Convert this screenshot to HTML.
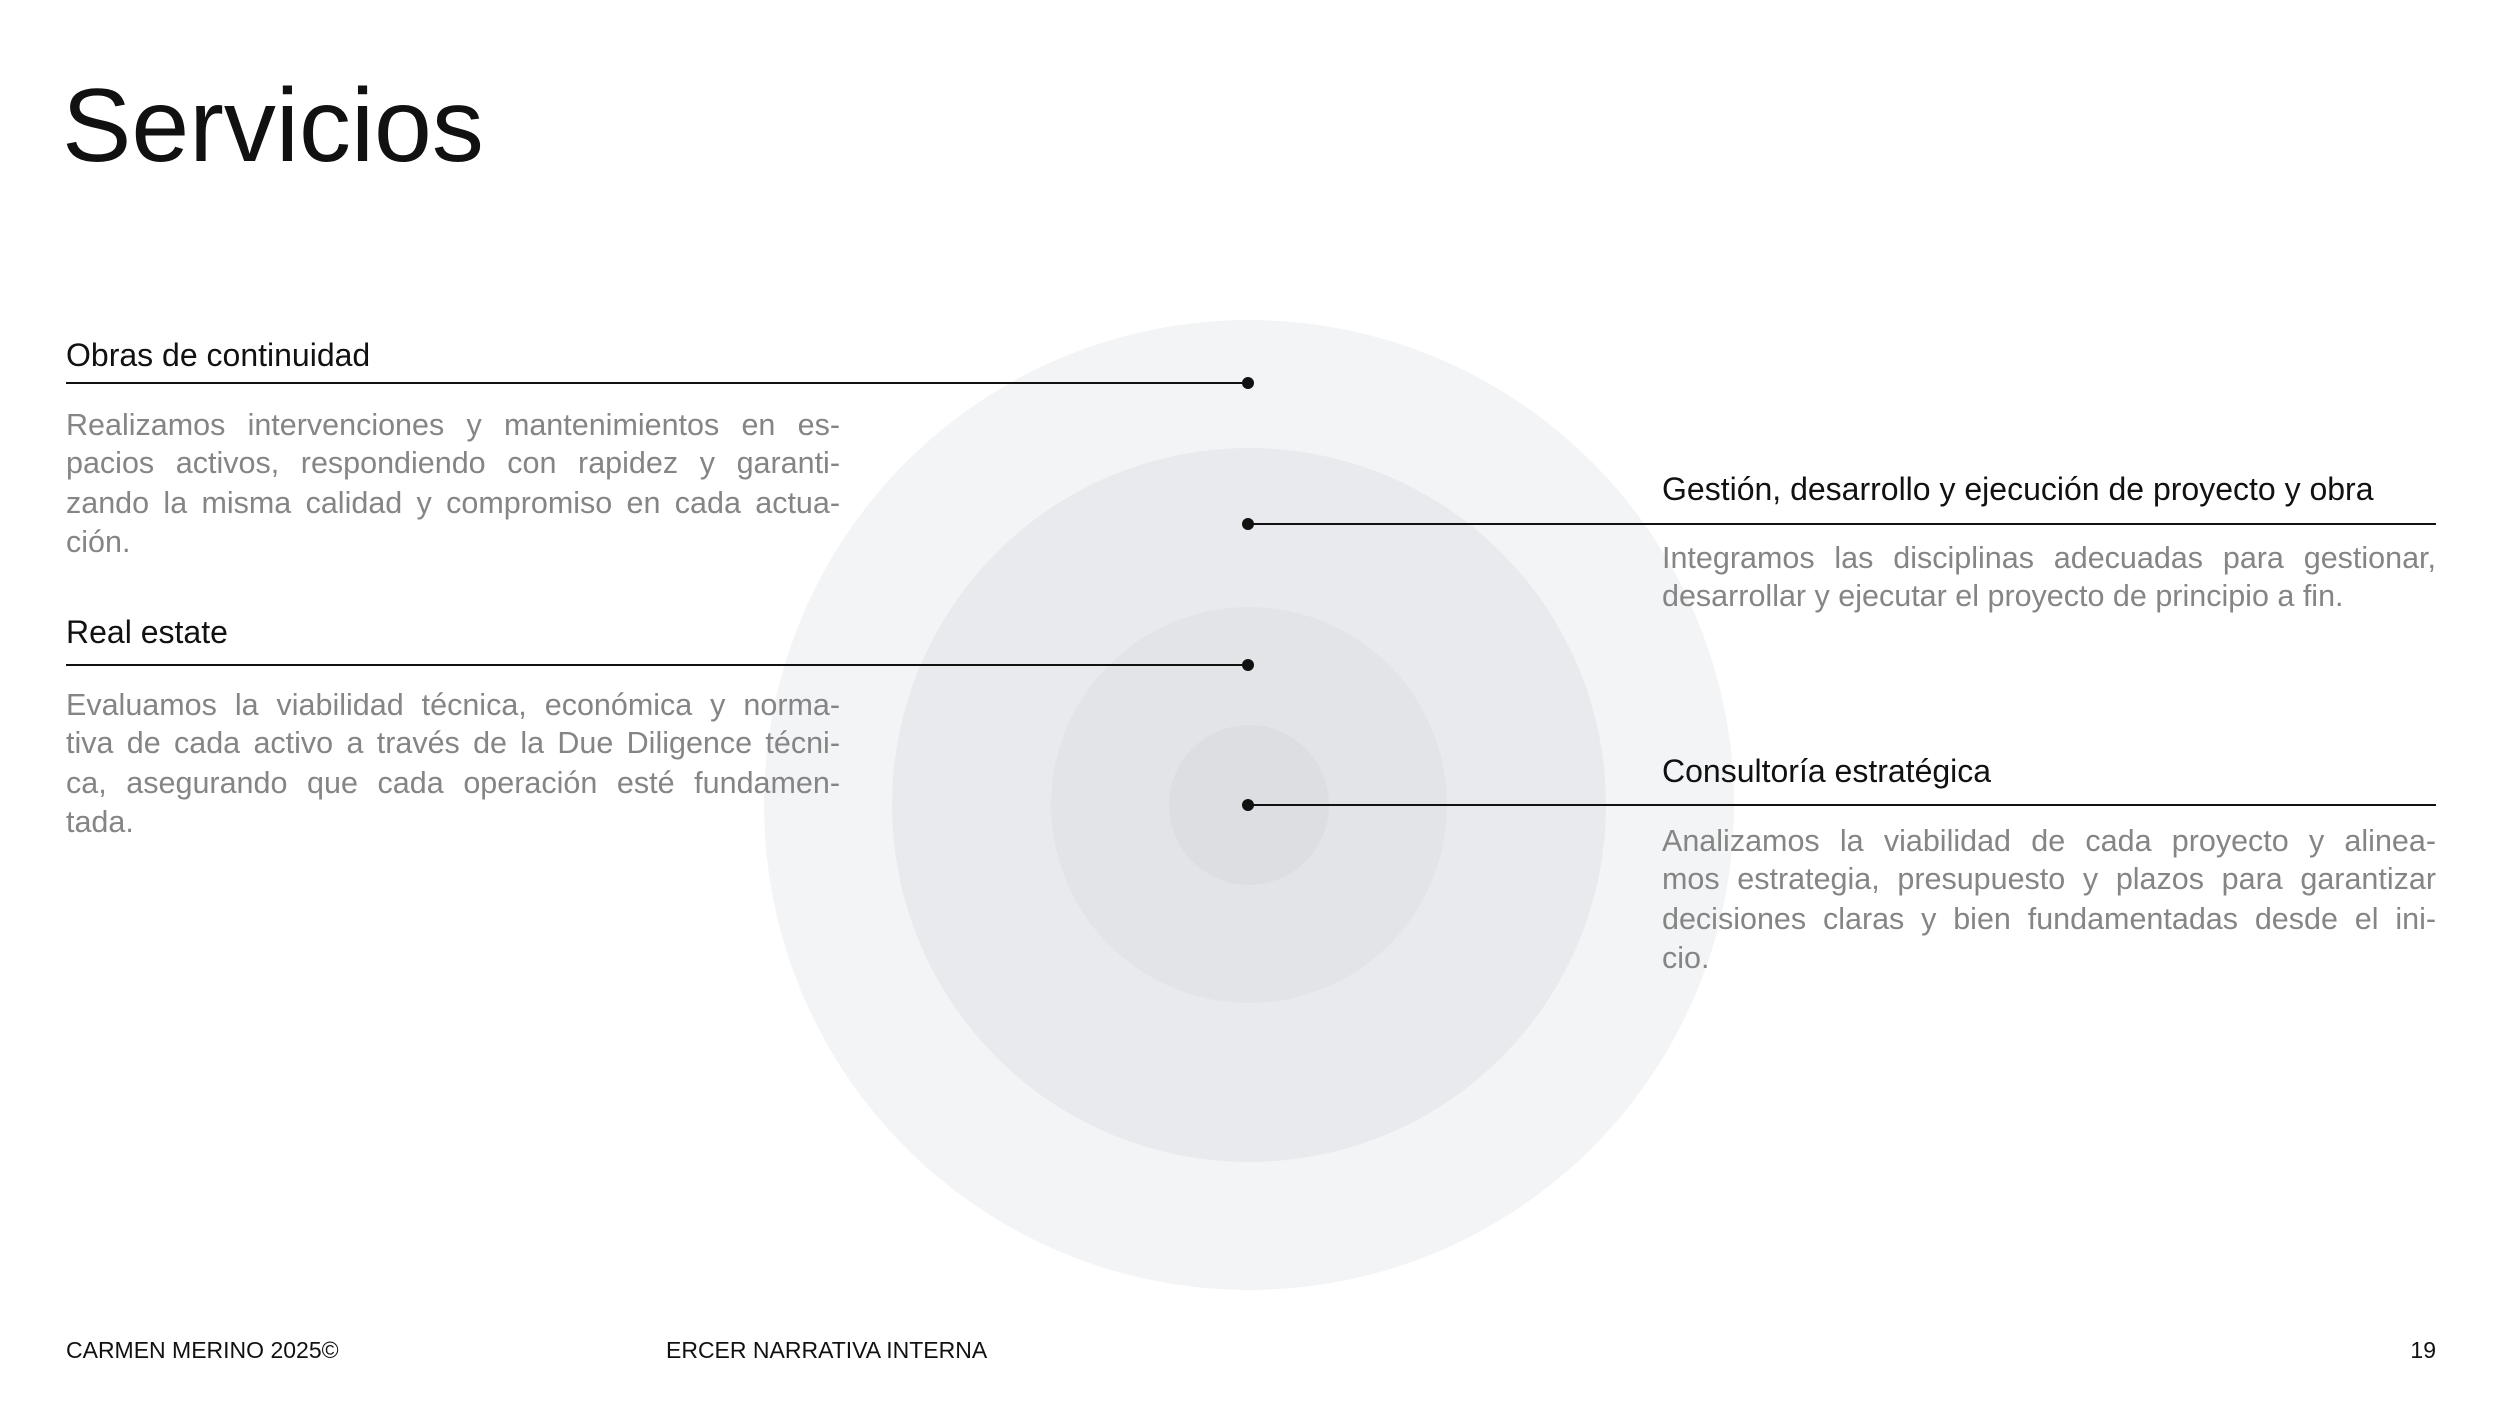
<!DOCTYPE html>
<html><head><meta charset="utf-8"><style>
body{margin:0;width:2500px;height:1406px;background:#fff;position:relative;overflow:hidden;font-family:"Liberation Sans",sans-serif}
.a{position:absolute;white-space:nowrap}
.h{font-size:32px;line-height:40px;color:#111}
.b{font-size:30.5px;line-height:39px;color:#858585;width:774px}
.j{text-align:justify;text-align-last:justify}
.f{font-size:22px;line-height:28px;color:#111}
</style></head><body>
<svg class="a" style="left:0;top:0" width="2500" height="1406">
<circle cx="1249" cy="805" r="485" fill="#f3f4f6"/>
<circle cx="1249" cy="805" r="357" fill="#e9eaed"/>
<circle cx="1249" cy="805" r="198" fill="#e3e4e7"/>
<circle cx="1249" cy="805" r="80" fill="#dcdee1"/>
<line x1="66" y1="383" x2="1248" y2="383" stroke="#111" stroke-width="2"/>
<line x1="66" y1="665" x2="1248" y2="665" stroke="#111" stroke-width="2"/>
<line x1="1248" y1="524" x2="2436" y2="524" stroke="#111" stroke-width="2"/>
<line x1="1248" y1="805" x2="2436" y2="805" stroke="#111" stroke-width="2"/>
<circle cx="1248" cy="383" r="6" fill="#111"/>
<circle cx="1248" cy="665" r="6" fill="#111"/>
<circle cx="1248" cy="524" r="6" fill="#111"/>
<circle cx="1248" cy="805" r="6" fill="#111"/>
</svg>
<div class="a" style="left:62px;top:66px;font-size:104px;line-height:120px;color:#111">Servicios</div>

<div class="a h" style="left:66px;top:335px">Obras de continuidad</div>
<div class="a b j" style="left:66px;top:406px">Realizamos intervenciones y mantenimientos en es-</div>
<div class="a b j" style="left:66px;top:444px">pacios activos, respondiendo con rapidez y garanti-</div>
<div class="a b j" style="left:66px;top:484px">zando la misma calidad y compromiso en cada actua-</div>
<div class="a b" style="left:66px;top:523px">ción.</div>

<div class="a h" style="left:66px;top:612px">Real estate</div>
<div class="a b j" style="left:66px;top:686px">Evaluamos la viabilidad técnica, económica y norma-</div>
<div class="a b j" style="left:66px;top:724px">tiva de cada activo a través de la Due Diligence técni-</div>
<div class="a b j" style="left:66px;top:764px">ca, asegurando que cada operación esté fundamen-</div>
<div class="a b" style="left:66px;top:803px">tada.</div>

<div class="a h" style="left:1662px;top:469px">Gestión, desarrollo y ejecución de proyecto y obra</div>
<div class="a b j" style="left:1662px;top:539px">Integramos las disciplinas adecuadas para gestionar,</div>
<div class="a b" style="left:1662px;top:577px">desarrollar y ejecutar el proyecto de principio a fin.</div>

<div class="a h" style="left:1662px;top:751px">Consultoría estratégica</div>
<div class="a b j" style="left:1662px;top:822px">Analizamos la viabilidad de cada proyecto y alinea-</div>
<div class="a b j" style="left:1662px;top:860px">mos estrategia, presupuesto y plazos para garantizar</div>
<div class="a b j" style="left:1662px;top:900px">decisiones claras y bien fundamentadas desde el ini-</div>
<div class="a b" style="left:1662px;top:939px">cio.</div>

<div class="a f" style="left:66px;top:1336px;font-size:23px">CARMEN MERINO 2025©</div>
<div class="a f" style="left:666px;top:1336px;font-size:23px">ERCER NARRATIVA INTERNA</div>
<div class="a f" style="right:64px;top:1336px;font-size:23px">19</div>
</body></html>
